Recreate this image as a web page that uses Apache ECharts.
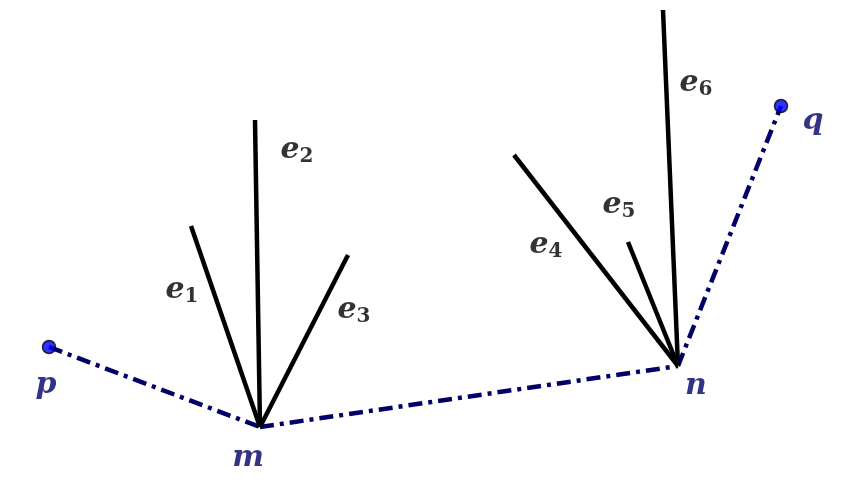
<!DOCTYPE html>
<html><head><meta charset="utf-8">
<script src="https://cdn.jsdelivr.net/npm/echarts@6/dist/echarts.min.js"></script>
<style>html,body{margin:0;padding:0;background:#fff}#c{width:850px;height:491px}</style>
</head><body><div id="c"></div>
<script>
// vertices (picture coordinates, y downward)
const vertices = {p:[49,347], m:[260,427], n:[678,366], q:[781,106]};
// edge endpoints
const edgesM = [[191,226],[255,120],[348,255]];
const edgesN = [[514,155],[628,242],[663,10]];
const path = ['p','m','n','q'];
const edgeLabels = [['1',[182,290]],['2',[297,150]],['3',[354,310]],['4',[546,245]],['5',[619,205]],['6',[696,83]]];
const vertexLabels = [['p',[46,385]],['q',[813,121]],['m',[248,458]],['n',[696,386]]];

const series = [];
for (let i=0;i<path.length-1;i++){
  series.push({type:'line',symbol:'none',data:[vertices[path[i]],vertices[path[i+1]]],
    lineStyle:{color:'#000066',width:4.5,type:[14,6,4,6]},z:2});
}
edgesM.forEach(e=>series.push({type:'line',symbol:'none',data:[vertices.m,e],lineStyle:{color:'#000',width:4.5},z:3}));
edgesN.forEach(e=>series.push({type:'line',symbol:'none',data:[vertices.n,e],lineStyle:{color:'#000',width:4.5},z:3}));
series.push({type:'scatter',data:[vertices.p,vertices.q],symbolSize:13,
  itemStyle:{color:'#0000ff',borderColor:'#000',borderWidth:1.5},z:5});
series.push({type:'scatter',symbolSize:0,z:6,
  data:edgeLabels.map(l=>({value:l[1],label:{formatter:'{e|e}{s|'+l[0]+'}'}})),
  label:{show:true,position:'inside',rich:{
    e:{fontFamily:'DejaVu Serif',fontStyle:'italic',fontWeight:'bold',fontSize:30,color:'#000'},
    s:{fontFamily:'DejaVu Serif',fontWeight:'bold',fontSize:20,color:'#000',padding:[14,0,0,0]}}}});
series.push({type:'scatter',symbolSize:0,z:6,
  data:vertexLabels.map(l=>({value:l[1],label:{formatter:l[0]}})),
  label:{show:true,position:'inside',fontFamily:'DejaVu Serif',fontStyle:'italic',fontWeight:'bold',fontSize:30,color:'#000066'}});

const chart = echarts.init(document.getElementById('c'));
chart.setOption({animation:false,
  grid:{left:0,right:0,top:0,bottom:0},
  xAxis:{type:'value',min:0,max:850,show:false},
  yAxis:{type:'value',min:0,max:491,inverse:true,show:false},
  series});
</script></body></html>
